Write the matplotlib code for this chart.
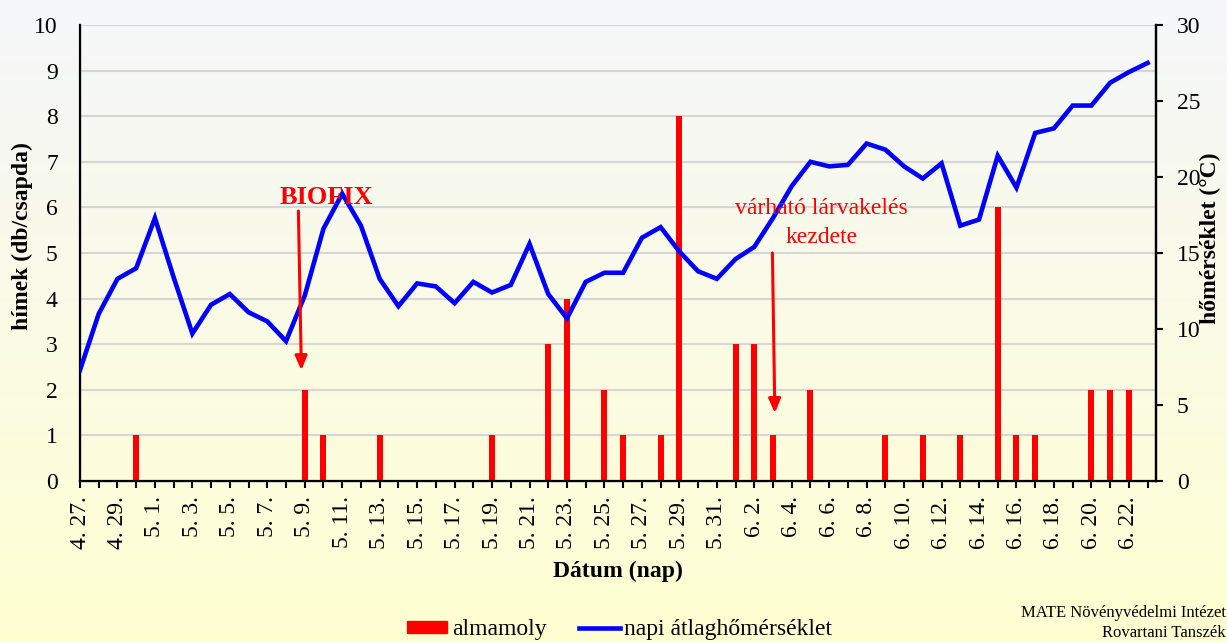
import matplotlib
matplotlib.use("Agg")
import matplotlib.pyplot as plt
import numpy as np
from matplotlib.lines import Line2D
from matplotlib.patches import Patch

plt.rcParams["font.family"] = ["Liberation Serif", "DejaVu Serif"]

# napi adatok 4.27. - 6.23. (58 nap)
tick_labels = [
    "4. 27.", "4. 29.", "5. 1.", "5. 3.", "5. 5.", "5. 7.", "5. 9.", "5. 11.",
    "5. 13.", "5. 15.", "5. 17.", "5. 19.", "5. 21.", "5. 23.", "5. 25.",
    "5. 27.", "5. 29.", "5. 31.", "6. 2.", "6. 4.", "6. 6.", "6. 8.", "6. 10.",
    "6. 12.", "6. 14.", "6. 16.", "6. 18.", "6. 20.", "6. 22.",
]
almamoly = [
    0, 0, 0, 1, 0, 0, 0, 0, 0, 0, 0, 0, 2, 1, 0, 0, 1, 0, 0, 0,
    0, 0, 1, 0, 0, 3, 4, 0, 2, 1, 0, 1, 8, 0, 0, 3, 3, 1, 0, 2,
    0, 0, 0, 1, 0, 1, 0, 1, 0, 6, 1, 1, 0, 0, 2, 2, 2, 0,
]
homerseklet = [
    7.3, 11.0, 13.3, 14.0, 17.3, 13.4, 9.7, 11.6, 12.3, 11.1,
    10.5, 9.2, 12.2, 16.6, 18.9, 16.8, 13.3, 11.5, 13.0, 12.8,
    11.7, 13.1, 12.4, 12.9, 15.6, 12.3, 10.7, 13.1, 13.7, 13.7,
    16.0, 16.7, 15.1, 13.8, 13.3, 14.6, 15.4, 17.3, 19.4, 21.0,
    20.7, 20.8, 22.2, 21.8, 20.7, 19.9, 20.9, 16.8, 17.2, 21.4,
    19.3, 22.9, 23.2, 24.7, 24.7, 26.2, 26.9, 27.5,
]

RED = "#ff0000"
BLUE = "#0000ff"

fig = plt.figure(figsize=(12.27, 6.42), dpi=100)

# háttér színátmenet (szürkéskék -> halványsárga)
bg = fig.add_axes([0, 0, 1, 1], zorder=-10)
top_c = np.array([0.963, 0.969, 0.980])
bot_c = np.array([1.0, 1.0, 0.82])
t = np.linspace(0, 1, 256)[:, None, None]
grad = top_c * (1 - t) + bot_c * t
bg.imshow(np.repeat(grad, 2, axis=1), aspect="auto", extent=[0, 1, 0, 1])
bg.set_axis_off()

ax = fig.add_axes([80 / 1227, 1 - 481 / 642, 1076 / 1227, 456 / 642])
ax.patch.set_alpha(0)
x = np.arange(len(almamoly))

ax.bar(x, almamoly, width=0.32, color=RED, zorder=2)
ax.set_ylim(0, 10)
ax.set_yticks(range(0, 11))
ax.set_xlim(0, 57.45)
ax.grid(axis="y", color="#d6d6d6", linewidth=1.5)
ax.set_axisbelow(True)

ax.set_xticks(x[::2])
ax.set_xticklabels(tick_labels, rotation=90, fontsize=17)
ax.set_xticks(x[1::2], minor=True)
ax.tick_params(axis="x", which="both", direction="out", length=5, width=1.5, pad=6)
ax.tick_params(axis="y", length=0, pad=16, labelsize=17)

for s in ["left", "bottom", "right"]:
    ax.spines[s].set_linewidth(1.6)
ax.spines["top"].set_visible(False)

ax.set_ylabel("hímek (db/csapda)", fontsize=17, fontweight="bold")
ax.yaxis.set_label_coords(-0.0437, 0.537)
ax.set_xlabel("Dátum (nap)", fontsize=17, fontweight="bold")
ax.xaxis.set_label_coords(0.5, -0.175)

ax2 = ax.twinx()
ax2.plot(x, homerseklet, color=BLUE, linewidth=3.3, solid_joinstyle="miter", zorder=3)
ax2.set_ylim(0, 30)
ax2.set_yticks(range(0, 31, 5))
ax2.tick_params(axis="y", direction="out", length=5, width=1.5, pad=10, labelsize=17)
ax2.spines["right"].set_linewidth(1.6)
ax2.spines["top"].set_visible(False)
ax2.set_ylabel("hőmérséklet (°C)", fontsize=17, fontweight="bold")
ax2.yaxis.set_label_coords(1.041, 0.533)

arrow = dict(arrowstyle="-|>,head_length=0.42,head_width=0.18", color=RED,
             lw=2.2, mutation_scale=20, shrinkA=0, shrinkB=0)
ax2.annotate("", xy=(11.82, 2.43), xytext=(11.66, 5.92),
             xycoords=ax.transData, textcoords=ax.transData, arrowprops=arrow)
ax2.text(13.15, 6.07, "BIOFIX", transform=ax.transData, ha="center", va="baseline",
         color=RED, fontsize=19, fontweight="bold")
ax2.annotate("", xy=(37.1, 1.49), xytext=(36.97, 5.0),
             xycoords=ax.transData, textcoords=ax.transData, arrowprops=arrow)
ax2.text(39.6, 5.855, "várható lárvakelés", transform=ax.transData,
         ha="center", va="baseline", color=RED, fontsize=17)
ax2.text(39.6, 5.213, "kezdete", transform=ax.transData,
         ha="center", va="baseline", color=RED, fontsize=17)

handles = [Patch(facecolor=RED, edgecolor=RED),
           Line2D([0], [0], color=BLUE, linewidth=3.3)]
fig.legend(handles, ["almamoly", "napi átlaghőmérséklet"], loc="center",
           bbox_to_anchor=(0.505, 0.0187), ncol=2, frameon=False, fontsize=17,
           handlelength=1.7, handleheight=0.45, handletextpad=0.2,
           columnspacing=1.4)

fig.text(1226 / 1227, 1 - 623 / 642, "MATE Növényvédelmi Intézet\nRovartani Tanszék",
         ha="right", va="center", multialignment="right", fontsize=12, linespacing=1.28)

fig.savefig("out.png", dpi=100)
